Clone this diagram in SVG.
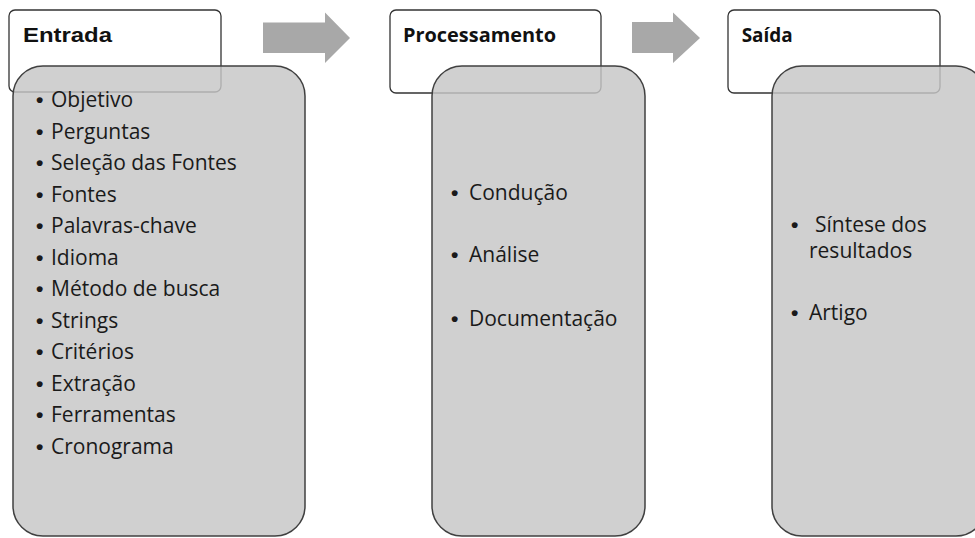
<svg xmlns="http://www.w3.org/2000/svg" width="975" height="538" viewBox="0 0 975 538">
<style>
.hdr{fill:#ffffff;stroke:#333333;stroke-width:1.3}
.body{fill:#c7c7c7;fill-opacity:0.83;stroke:#404040;stroke-width:1.5}
.arrow{fill:#a8a8a8}
.t{font-family:"Open Sans","Noto Sans",sans-serif;font-size:21px;fill:#1a1a1a}
.b{font-family:"Liberation Sans",Arial,sans-serif;font-size:21px;font-weight:bold}
.h{font-family:"Open Sans","Noto Sans",sans-serif;font-size:19px;font-weight:bold;fill:#111111}
.h1{font-family:"Liberation Sans",Arial,sans-serif;font-size:21px;font-weight:bold;fill:#111111}
</style>
<rect width="975" height="538" fill="#ffffff"/>
<g id="connectors">
<polygon class="arrow" points="263,22.5 325,22.5 325,12.5 350,38 325,63 325,53 263,53"/>
<polygon class="arrow" points="632,22 673,22 673,12.5 700,38 673,63 673,53 632,53"/>
</g>
<g id="entrada">
<rect class="hdr" x="9" y="10" width="212" height="82" rx="6"/>
<text class="h1" x="23" y="41.7" textLength="89" lengthAdjust="spacingAndGlyphs">Entrada</text>
<rect class="body" x="13" y="66" width="292" height="470" rx="30"/>
<text class="t" y="107"><tspan class="b" x="36">•</tspan><tspan x="51">Objetivo</tspan></text>
<text class="t" y="138.5"><tspan class="b" x="36">•</tspan><tspan x="51">Perguntas</tspan></text>
<text class="t" y="170"><tspan class="b" x="36">•</tspan><tspan x="51">Seleção das Fontes</tspan></text>
<text class="t" y="201.5"><tspan class="b" x="36">•</tspan><tspan x="51">Fontes</tspan></text>
<text class="t" y="233"><tspan class="b" x="36">•</tspan><tspan x="51">Palavras-chave</tspan></text>
<text class="t" y="264.5"><tspan class="b" x="36">•</tspan><tspan x="51">Idioma</tspan></text>
<text class="t" y="296"><tspan class="b" x="36">•</tspan><tspan x="51">Método de busca</tspan></text>
<text class="t" y="327.5"><tspan class="b" x="36">•</tspan><tspan x="51">Strings</tspan></text>
<text class="t" y="359"><tspan class="b" x="36">•</tspan><tspan x="51">Critérios</tspan></text>
<text class="t" y="390.5"><tspan class="b" x="36">•</tspan><tspan x="51">Extração</tspan></text>
<text class="t" y="422"><tspan class="b" x="36">•</tspan><tspan x="51">Ferramentas</tspan></text>
<text class="t" y="453.5"><tspan class="b" x="36">•</tspan><tspan x="51">Cronograma</tspan></text>
</g>
<g id="processamento">
<rect class="hdr" x="390" y="10" width="211" height="83" rx="6"/>
<text class="h" x="403" y="41.7" textLength="153" lengthAdjust="spacingAndGlyphs">Processamento</text>
<rect class="body" x="432" y="66" width="213" height="470" rx="30"/>
<text class="t" y="200"><tspan class="b" x="451">•</tspan><tspan x="469">Condução</tspan></text>
<text class="t" y="262"><tspan class="b" x="451">•</tspan><tspan x="469">Análise</tspan></text>
<text class="t" y="326"><tspan class="b" x="451">•</tspan><tspan x="469">Documentação</tspan></text>
</g>
<g id="saida">
<rect class="hdr" x="728" y="10" width="212" height="83" rx="6"/>
<text class="h" x="741.7" y="41.7" textLength="51" lengthAdjust="spacingAndGlyphs">Saída</text>
<rect class="body" x="772" y="66" width="214" height="470" rx="30"/>
<text class="t" y="232"><tspan class="b" x="791">•</tspan><tspan x="815">Síntese dos</tspan></text>
<text class="t" x="809" y="257.5">resultados</text>
<text class="t" y="319.5"><tspan class="b" x="791">•</tspan><tspan x="809">Artigo</tspan></text>
</g>
</svg>
